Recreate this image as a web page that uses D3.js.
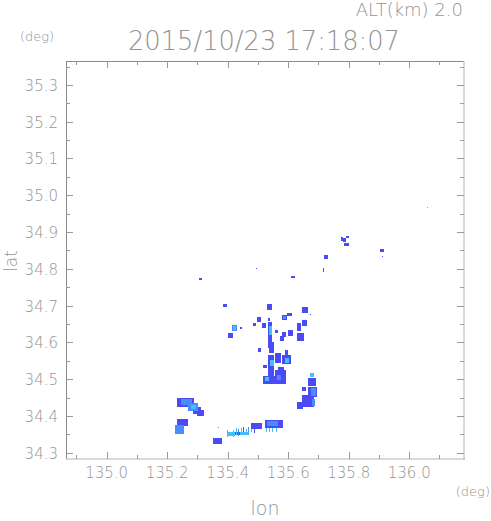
<!DOCTYPE html>
<html>
<head>
<meta charset="utf-8">
<script src="https://cdn.jsdelivr.net/npm/d3@7"></script>
<style>
  html, body { margin: 0; padding: 0; background: #fff; }
  #chart { width: 491px; height: 521px; }
  text { font-family: "DejaVu Sans", "Liberation Sans", sans-serif; font-weight: 200; fill: #939393; }
</style>
</head>
<body>
<div id="chart"></div>
<script>
// axis ranges (deg)
const lonRange = [134.8655, 136.181];
const latRange = [34.283, 35.365];
const lonTicks = [135.0, 135.2, 135.4, 135.6, 135.8, 136.0];
const latTicks = [34.3, 34.4, 34.5, 34.6, 34.7, 34.8, 34.9, 35.0, 35.1, 35.2, 35.3];
const titleText = "2015/10/23 17:18:07";
const altText = "ALT(km) 2.0";

// echo cells: [lonW, lonE, latS, latN, level]
const echoNorth = [
  [135.775, 135.781, 34.876, 34.887, 1],
  [135.781, 135.791, 34.873, 34.884, 1],
  [135.791, 135.801, 34.884, 34.889, 1],
  [135.784, 135.801, 34.862, 34.870, 1],
  [135.718, 135.731, 34.827, 34.838, 1],
  [135.904, 135.917, 34.846, 34.854, 1],
  [135.910, 135.914, 34.832, 34.836, 1],
  [136.059, 136.062, 34.965, 34.968, 3],
  [135.494, 135.497, 34.799, 34.802, 1],
  [135.715, 135.718, 34.791, 34.802, 1],
  [135.609, 135.622, 34.775, 34.781, 1],
  [135.305, 135.315, 34.770, 34.776, 1]
];

const echoCentral = [
  [135.384, 135.398, 34.695, 34.704, 1],
  [135.530, 135.546, 34.688, 34.704, 1],
  [135.646, 135.666, 34.680, 34.696, 1],
  [135.672, 135.675, 34.674, 34.677, 1],
  [135.580, 135.596, 34.661, 34.675, 1],
  [135.583, 135.593, 34.664, 34.672, 2],
  [135.497, 135.510, 34.655, 34.669, 1],
  [135.533, 135.540, 34.658, 34.666, 1],
  [135.596, 135.613, 34.672, 34.680, 1],
  [135.414, 135.431, 34.631, 34.647, 2],
  [135.418, 135.427, 34.634, 34.644, 3],
  [135.401, 135.418, 34.612, 34.626, 1],
  [135.441, 135.447, 34.636, 34.642, 1],
  [135.484, 135.494, 34.645, 34.653, 1],
  [135.513, 135.527, 34.639, 34.653, 1],
  [135.533, 135.546, 34.585, 34.655, 1],
  [135.536, 135.546, 34.620, 34.645, 3],
  [135.556, 135.566, 34.626, 34.634, 1],
  [135.573, 135.586, 34.604, 34.617, 1],
  [135.580, 135.593, 34.615, 34.628, 1],
  [135.599, 135.616, 34.617, 34.634, 1],
  [135.629, 135.642, 34.631, 34.653, 1],
  [135.646, 135.662, 34.645, 34.661, 1],
  [135.629, 135.652, 34.604, 34.626, 1],
  [135.500, 135.510, 34.574, 34.585, 1],
  [135.536, 135.553, 34.571, 34.601, 1],
  [135.589, 135.599, 34.563, 34.579, 1],
  [135.580, 135.609, 34.541, 34.566, 1],
  [135.589, 135.603, 34.544, 34.558, 3],
  [135.556, 135.576, 34.544, 34.571, 1],
  [135.533, 135.553, 34.528, 34.566, 1],
  [135.540, 135.553, 34.536, 34.552, 3],
  [135.517, 135.530, 34.530, 34.539, 1],
  [135.566, 135.586, 34.514, 34.533, 1],
  [135.533, 135.553, 34.503, 34.530, 1],
  [135.556, 135.593, 34.487, 34.525, 1],
  [135.563, 135.576, 34.498, 34.511, 2],
  [135.517, 135.566, 34.487, 34.509, 1],
  [135.523, 135.537, 34.495, 34.506, 3]
];

const echoSouthEast = [
  [135.672, 135.685, 34.506, 34.517, 3],
  [135.666, 135.692, 34.482, 34.503, 1],
  [135.646, 135.659, 34.468, 34.479, 1],
  [135.666, 135.695, 34.451, 34.479, 1],
  [135.675, 135.692, 34.454, 34.476, 2],
  [135.646, 135.685, 34.424, 34.457, 1],
  [135.629, 135.649, 34.419, 34.438, 1],
  [135.679, 135.689, 34.427, 34.446, 2]
];

const echoSouthWest = [
  [135.232, 135.289, 34.424, 34.449, 1],
  [135.245, 135.282, 34.430, 34.446, 2],
  [135.269, 135.302, 34.413, 34.435, 2],
  [135.280, 135.295, 34.418, 34.430, 3],
  [135.285, 135.311, 34.405, 34.424, 1],
  [135.299, 135.321, 34.400, 34.416, 1],
  [135.232, 135.268, 34.373, 34.392, 1],
  [135.226, 135.255, 34.351, 34.376, 2],
  [135.351, 135.381, 34.324, 34.340, 1],
  [135.368, 135.371, 34.367, 34.370, 2],
  [135.401, 135.424, 34.346, 34.356, 3],
  [135.424, 135.441, 34.348, 34.357, 1],
  [135.441, 135.471, 34.347, 34.356, 3],
  [135.477, 135.513, 34.364, 34.381, 1],
  [135.523, 135.583, 34.367, 34.389, 1],
  [135.530, 135.566, 34.373, 34.386, 2]
];

// thin streaks near 135.4-135.56
const streakLon = [135.398, 135.408, 135.418, 135.427, 135.434, 135.444, 135.451, 135.461, 135.467, 135.477, 135.487, 135.526, 135.537, 135.547, 135.559];
const streakTop = [34.361, 34.357, 34.361, 34.368, 34.364, 34.366, 34.371, 34.364, 34.371, 34.364, 34.366, 34.367, 34.367, 34.367, 34.367];
const streakBottom = [34.343, 34.348, 34.343, 34.348, 34.345, 34.353, 34.351, 34.353, 34.348, 34.356, 34.353, 34.356, 34.356, 34.356, 34.356];
const streakLevel = [3, 2, 3, 3, 2, 3, 1, 3, 2, 3, 1, 3, 3, 3, 3];

const levelColors = ["#4a4af6", "#4a8cff", "#3ec2ff"];

const container = d3.select("#chart");
const width = 491, height = 521;
const plot = { left: 66, top: 61, right: 464, bottom: 459 };

const svg = container.append("svg").attr("width", width).attr("height", height);

const x = d3.scaleLinear().domain(lonRange).range([plot.left, plot.right]);
const y = d3.scaleLinear().domain(latRange).range([plot.bottom, plot.top]);

const cells = [...echoNorth, ...echoCentral, ...echoSouthEast, ...echoSouthWest]
  .map(d => ({ w: d[0], e: d[1], s: d[2], n: d[3], level: d[4] }));
streakLon.forEach((lon, i) => {
  cells.push({ w: lon, e: lon + 0.0033, s: streakBottom[i], n: streakTop[i], level: streakLevel[i] });
});
cells.sort((a, b) => d3.ascending(a.level, b.level));

svg.append("g")
  .attr("shape-rendering", "crispEdges")
  .selectAll("rect")
  .data(cells)
  .enter()
  .append("rect")
  .attr("x", d => x(d.w))
  .attr("y", d => y(d.n))
  .attr("width", d => Math.max(1, x(d.e) - x(d.w)))
  .attr("height", d => Math.max(1, y(d.s) - y(d.n)))
  .attr("fill", d => levelColors[d.level - 1]);

// frame
const frame = svg.append("g").attr("fill", "none");
frame.append("line").attr("x1", plot.left + 0.5).attr("x2", plot.left + 0.5)
  .attr("y1", plot.top).attr("y2", plot.bottom).attr("stroke", "#8a8a8a");
frame.append("line").attr("x1", plot.left).attr("x2", plot.right)
  .attr("y1", plot.top + 0.5).attr("y2", plot.top + 0.5).attr("stroke", "#8a8a8a");
frame.append("line").attr("x1", plot.right).attr("x2", plot.right)
  .attr("y1", plot.top).attr("y2", plot.bottom + 1).attr("stroke", "#b4b4b4");
frame.append("line").attr("x1", plot.left).attr("x2", plot.right + 1)
  .attr("y1", plot.bottom).attr("y2", plot.bottom).attr("stroke", "#b4b4b4");

// ticks: major at labels, minor halfway
const lonMinor = d3.range(134.9, 136.15, 0.1).filter(v => !lonTicks.some(t => Math.abs(t - v) < 1e-6));
const latMinor = d3.range(34.35, 35.36, 0.1);
const ticks = svg.append("g").attr("stroke", "#9a9a9a").attr("shape-rendering", "crispEdges");

[[lonTicks, 7], [lonMinor, 4]].forEach(([vals, len]) => {
  vals.forEach(v => {
    const px = Math.round(x(v)) + 0.5;
    ticks.append("line").attr("x1", px).attr("x2", px).attr("y1", plot.top).attr("y2", plot.top + len);
    ticks.append("line").attr("x1", px).attr("x2", px).attr("y1", plot.bottom).attr("y2", plot.bottom - len);
  });
});
[[latTicks, 7], [latMinor, 4]].forEach(([vals, len]) => {
  vals.forEach(v => {
    const py = Math.round(y(v)) + 0.5;
    ticks.append("line").attr("x1", plot.left).attr("x2", plot.left + len).attr("y1", py).attr("y2", py);
    ticks.append("line").attr("x1", plot.right).attr("x2", plot.right - len).attr("y1", py).attr("y2", py);
  });
});

// tick labels
const fmt = d3.format(".1f");
svg.append("g").selectAll("text")
  .data(lonTicks)
  .enter()
  .append("text")
  .attr("x", d => x(d))
  .attr("y", 478)
  .attr("text-anchor", "middle")
  .attr("font-size", 15)
  .text(d => fmt(d));

svg.append("g").selectAll("text")
  .data(latTicks)
  .enter()
  .append("text")
  .attr("x", 58)
  .attr("y", d => y(d) + 6)
  .attr("text-anchor", "end")
  .attr("font-size", 15)
  .text(d => fmt(d));

// titles and axis names
svg.append("text").attr("x", 463).attr("y", 16).attr("text-anchor", "end")
  .attr("font-size", 18).text(altText);
svg.append("text").attr("x", 128).attr("y", 50)
  .attr("font-size", 26).attr("textLength", 272).attr("lengthAdjust", "spacingAndGlyphs")
  .text(titleText);
svg.append("text").attr("x", 20).attr("y", 41).attr("font-size", 13).text("(deg)");
svg.append("text").attr("x", 490).attr("y", 496).attr("text-anchor", "end")
  .attr("font-size", 13).text("(deg)");
svg.append("text").attr("x", 265).attr("y", 515).attr("text-anchor", "middle")
  .attr("font-size", 19).text("lon");
svg.append("text").attr("transform", "translate(17,261) rotate(-90)")
  .attr("text-anchor", "middle").attr("font-size", 17).text("lat");
</script>
</body>
</html>
